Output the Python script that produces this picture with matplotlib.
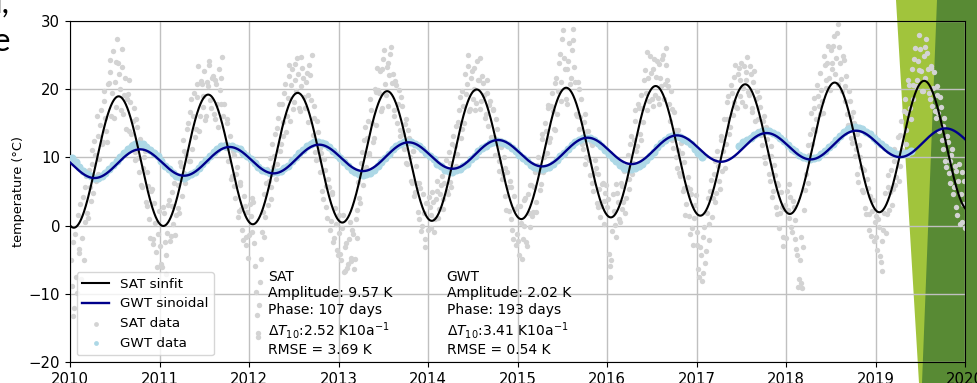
import numpy as np
import matplotlib
matplotlib.use('Agg')
import matplotlib.pyplot as plt
from matplotlib.patches import Polygon

nan = np.nan
years = list(range(2010, 2020))

# SAT data, one value per week (deg C), first reading of the week
sat_2010 = [-5.1, -2.4, -12.1, -7.5, 1.5, -4.0, -7.9, 4.2, 0.6, 7.2, 1.1, 5.6, 11.1, 4.8, 10.4, 16.0, 7.5, 14.8, 11.9, 19.7, 15.8, 12.2, 20.9, 24.3, 19.5, 15.8,
            24.0, 27.4, 22.3, 17.0, 23.2, 19.2, 14.2, 19.3, 21.4, 13.4, 15.4, 9.6, 15.6, 9.9, 12.7, 5.9, 8.5, 11.0, 2.9, 5.8, -1.8, 5.4, -1.9, 0.4, -6.0, 2.1]
sat_2011 = [-3.0, -6.0, 1.9, -4.3, -1.1, 3.8, -1.5, 2.9, 6.3, 1.6, 5.9, 1.8, 8.8, 12.6, 7.7, 10.3, 15.0, 9.4, 18.5, 16.0, 13.0, 20.7, 23.4, 16.0, 20.8, 19.0,
            15.5, 21.1, 23.6, 18.4, 21.6, 16.3, 21.4, 17.9, 22.9, 17.9, 24.7, 17.9, 11.4, 15.0, 11.5, 6.8, 11.0, 5.8, 7.5, 1.2, 6.0, 2.5, -2.1, 2.9, -1.7, -4.8]
sat_2012 = [3.1, -1.0, 3.4, -5.9, -13.1, -16.3, -8.3, -0.9, 4.6, 1.3, 8.3, 6.5, 3.9, 12.0, 10.2, 6.8, 14.3, 17.8, 12.0, 15.2, 19.5, 13.7, 18.7, 23.6, 20.6, 17.1,
            23.7, 19.7, 22.3, 16.8, 24.7, 21.7, 17.3, 22.4, 19.2, 22.1, 25.0, 15.8, 10.8, 15.4, 9.8, 11.4, 5.1, 9.7, 5.8, 1.1, 5.7, 0.7, 4.7, -1.8, 0.2, -4.3]
sat_2013 = [-1.1, -5.0, 1.5, -6.6, -2.6, -5.6, 0.5, -5.2, -1.2, -4.9, 2.3, 6.4, 3.3, 10.8, 8.1, 14.4, 12.8, 10.4, 18.5, 15.1, 12.8, 19.6, 23.1, 19.5, 16.8, 23.0,
            25.8, 19.1, 23.9, 22.1, 26.2, 22.2, 17.0, 20.6, 17.8, 14.0, 18.8, 13.5, 14.9, 9.2, 14.0, 10.0, 6.3, 10.9, 4.9, 6.3, 1.0, 5.5, -0.1, 1.9, -3.1, 3.3]
sat_2014 = [4.2, 1.5, 4.9, -0.9, 3.9, 6.6, 2.5, 6.0, 2.5, 6.3, 9.6, 4.6, 9.2, 5.7, 13.1, 11.6, 8.8, 15.2, 18.9, 14.1, 17.6, 22.2, 20.7, 25.0, 17.1, 22.6,
            20.0, 16.9, 24.2, 21.3, 17.1, 22.0, 19.2, 16.3, 21.3, 17.7, 13.0, 16.9, 13.0, 15.6, 12.0, 8.0, 11.5, 7.5, 8.5, 2.3, 5.6, 6.5, 1.0, -2.0, 2.4, -1.2]
sat_2015 = [-2.2, 2.9, -4.9, -0.1, 4.1, -3.0, 1.9, 6.0, 1.4, 5.7, 2.0, 8.9, 7.9, 6.1, 13.5, 10.0, 13.8, 17.7, 12.2, 17.5, 16.8, 14.0, 21.7, 19.7, 25.2, 18.3,
            28.7, 23.0, 17.9, 24.2, 20.8, 25.8, 27.2, 21.0, 16.0, 20.1, 15.9, 12.0, 15.2, 9.1, 13.8, 9.6, 12.3, 6.2, 7.7, 8.5, 2.8, 5.4, 2.9, 6.3, 3.6, 5.9]
sat_2016 = [3.9, -7.5, -5.1, 4.7, 0.1, 6.1, 3.4, 0.5, 5.8, 3.5, 1.9, 8.9, 6.9, 12.0, 7.6, 12.5, 16.9, 11.6, 17.3, 12.6, 17.2, 21.3, 19.4, 25.5, 18.3, 22.4,
            17.5, 24.5, 21.8, 18.7, 23.7, 20.4, 25.0, 20.8, 26.1, 20.4, 15.3, 17.1, 11.4, 14.0, 8.4, 11.1, 7.2, 10.7, 5.5, 1.6, 5.6, 1.4, 5.3, -0.4, 1.1, 4.5]
sat_2017 = [-2.9, -7.6, -4.3, -7.0, -0.2, -3.7, 4.1, 0.2, 6.7, 4.1, 9.4, 4.8, 8.8, 5.3, 13.1, 10.9, 8.5, 15.7, 19.0, 14.5, 19.5, 18.1, 23.6, 17.2, 23.1, 21.4,
            18.1, 23.4, 21.4, 24.7, 19.1, 22.2, 16.6, 22.7, 18.6, 15.7, 18.9, 13.3, 15.3, 10.0, 14.4, 10.2, 6.6, 10.2, 5.1, 7.4, 1.7, 6.0, 1.9, 2.8, -1.6, 3.0]
sat_2018 = [5.1, 1.1, 4.2, -1.0, 2.8, -1.9, -4.3, -7.9, -1.7, -9.2, 2.3, 7.6, 11.8, 10.4, 16.5, 14.1, 18.7, 15.6, 19.0, 16.3, 19.9, 16.5, 23.5, 21.3, 26.4, 19.9,
            23.8, 26.4, 22.2, 28.2, 29.5, 23.8, 19.8, 24.3, 20.4, 16.3, 19.7, 15.9, 12.1, 15.1, 11.2, 7.6, 11.8, 8.6, 4.9, 8.2, 1.7, 5.5, 1.7, -1.5, 3.7, 0.6]
sat_2019 = [-1.7, 1.0, -4.4, -6.7, -0.6, 4.8, 1.7, 7.4, 4.9, 3.0, 9.4, 6.0, 10.4, 6.5, 13.3, 11.1, 16.8, 11.9, 16.5, 20.6, 15.6, 20.6, 24.5, 20.4, 24.1, 27.9,
            22.7, 19.8, 26.2, 27.4, 23.0, 18.5, 23.4, 20.2, 16.8, 20.4, 16.5, 18.8, 12.5, 14.6, 9.5, 13.2, 7.7, 9.5, 11.2, 5.7, 8.0, 1.5, 9.1, 4.7, 0.5, 6.6]

# SAT data, second reading of each week
sat_2010b = [-8.8, -13.2, -1.3, -9.9, -3.4, 3.1, -1.8, -5.0, 5.6, 1.9, 8.2, 3.6, 9.0, 12.4, 6.6, 13.1, 9.8, 17.0, 12.3, 18.2, 13.9, 20.7, 22.5, 16.1, 25.6, 21.0,
             17.4, 23.8, 20.1, 25.9, 16.3, 21.7, 18.6, 13.9, 18.1, 12.0, 17.2, 10.8, 14.4, 7.9, 11.9, 5.6, 10.0, 3.4, 7.8, 0.9, 5.1, -2.7, 3.3, -3.9, -1.2, -8.4]
sat_2011b = [-5.6, 2.8, -2.4, -7.1, 3.0, -2.2, 4.9, 0.3, -1.4, 7.1, 2.6, 9.3, 4.4, 11.0, 6.3, 14.2, 9.5, 16.6, 11.3, 19.4, 14.1, 18.8, 13.9, 21.2, 17.4, 22.6,
             16.0, 20.5, 24.1, 17.3, 22.0, 15.6, 20.8, 14.4, 19.9, 21.6, 16.1, 12.0, 15.7, 9.4, 13.2, 7.3, 10.4, 4.1, 8.6, 2.2, 6.4, -0.6, 4.3, -2.9, 2.0, -1.4]
sat_2012b = [1.4, 4.0, -2.5, -9.8, -15.7, -11.6, -4.9, 2.0, -1.7, 6.2, 3.0, 9.9, 5.6, 8.6, 13.4, 9.1, 15.8, 11.0, 17.9, 13.2, 20.8, 16.1, 21.9, 15.3, 23.0, 18.1,
             21.3, 24.6, 17.2, 20.4, 23.1, 18.9, 21.0, 15.2, 23.6, 18.4, 13.3, 17.5, 9.6, 13.7, 7.8, 10.6, 3.9, 8.2, 2.7, 6.9, -0.7, 4.9, -2.4, 2.6, -3.6, 1.5]
sat_2013b = [-4.2, -0.3, -6.8, -3.1, -6.2, -2.0, -4.7, -0.6, -6.3, 0.9, -1.8, 4.1, 9.2, 5.9, 12.5, 8.6, 15.4, 10.7, 16.9, 12.2, 20.0, 14.8, 19.9, 22.6, 17.2, 24.4,
             20.8, 23.3, 17.6, 25.1, 20.9, 16.0, 21.2, 15.0, 19.9, 13.2, 17.6, 11.3, 15.6, 9.0, 12.8, 6.6, 10.9, 4.4, 8.7, 2.0, 6.3, -0.8, 4.6, -1.9, 3.3, -0.6]
sat_2014b = [2.7, -0.4, 3.5, 0.9, 5.1, 1.1, 4.6, 7.2, 3.9, 8.1, 5.0, 10.8, 6.4, 11.9, 8.4, 14.6, 10.5, 16.9, 12.8, 19.7, 15.0, 19.3, 23.4, 16.8, 21.7, 18.6,
             23.1, 18.0, 21.4, 24.6, 18.3, 20.9, 15.8, 19.4, 14.6, 18.3, 12.9, 17.1, 10.4, 14.2, 9.5, 12.6, 6.8, 10.1, 4.3, 7.9, 2.1, 5.6, -0.7, 4.4, -2.9, 2.9]
sat_2015b = [-4.3, 0.4, -1.9, 3.8, -2.4, 4.6, -0.2, 5.9, 2.0, 7.8, 3.4, 10.1, 5.2, 12.7, 7.9, 15.0, 10.6, 17.3, 12.9, 19.5, 14.2, 20.9, 16.3, 23.8, 21.0, 27.3,
             24.6, 18.5, 22.9, 26.8, 21.7, 28.9, 23.3, 16.4, 21.1, 14.1, 18.6, 11.2, 16.3, 10.0, 13.9, 7.4, 11.8, 5.1, 9.6, 3.3, 7.5, 1.2, 6.1, 0.3, 4.8, 2.7]
sat_2016b = [-4.1, -5.9, -0.8, 2.2, -1.6, 4.8, 1.0, 6.3, 2.4, 8.0, 4.1, 10.4, 5.3, 13.1, 9.2, 15.3, 10.9, 17.8, 13.4, 19.1, 15.2, 22.8, 17.0, 21.7, 24.9, 18.6,
             23.0, 19.2, 24.2, 17.9, 21.6, 24.4, 18.5, 23.6, 21.3, 17.8, 19.8, 12.5, 16.7, 10.1, 14.0, 7.7, 12.1, 5.0, 9.3, 3.2, 7.1, -1.2, 4.6, -2.8, 3.0, -0.9]
sat_2017b = [-6.4, -3.2, -8.1, -1.6, -5.5, 1.8, -2.1, 5.0, 1.3, 7.6, 3.4, 10.9, 6.6, 12.6, 8.0, 15.6, 11.9, 18.1, 13.4, 20.6, 16.2, 21.8, 17.4, 22.3, 19.0, 23.8,
             20.2, 17.6, 22.5, 19.6, 23.4, 17.3, 21.0, 15.4, 19.8, 13.9, 17.4, 11.8, 16.0, 9.2, 12.7, 7.5, 11.6, 4.2, 8.9, 2.8, 6.3, -0.4, 4.9, -3.0, 2.5, -1.8]
sat_2018b = [2.3, 6.1, -0.2, 3.6, 0.8, -3.5, -9.0, -5.1, -8.4, -3.2, 5.2, 9.8, 6.3, 13.4, 12.0, 17.3, 13.8, 20.6, 17.5, 22.4, 18.3, 24.9, 20.2, 23.8, 21.6, 25.7,
             22.9, 27.8, 24.6, 20.8, 26.2, 21.5, 24.9, 18.2, 22.0, 14.7, 18.3, 12.9, 16.6, 10.2, 13.5, 6.4, 10.1, 5.2, 8.3, 2.6, 6.9, -0.6, 4.4, 2.1, -2.3, 1.4]
sat_2019b = [-3.6, -0.2, -5.4, -2.3, 1.8, -1.1, 5.6, 2.3, 8.1, 5.3, 11.2, 7.1, 13.0, 8.8, 15.4, 10.9, 18.5, 14.0, 21.3, 17.2, 22.9, 18.6, 26.1, 21.4, 22.8, 25.9,
             19.7, 24.8, 21.6, 25.3, 19.4, 23.1, 17.6, 22.5, 15.8, 19.1, 13.9, 17.4, 11.3, 15.8, 8.6, 12.3, 6.2, 10.4, 4.6, 8.8, 2.7, 6.5, 0.2, 7.9, 3.1, -0.4]

# GWT data, two values per month (deg C), nan = no data
gwt_2010 = [9.9, 9.3, 8.6, 8.0, 7.5, 7.2, 7.0, 7.0, 7.3, 7.7, 8.3, 8.9, 9.5, 10.1, 10.7, 11.3, 11.7, 12.0, 12.0, 11.9, 11.5, 11.1, 10.6, 10.2]
gwt_2011 = [9.5, 8.8, 8.3, 7.7, 7.3, 7.1, 7.0, 7.2, 7.5, 7.9, 8.4, 9.0, 9.6, 10.2, 10.8, 11.2, 11.6, 11.7, 11.7, 11.7, 11.4, 11.2, 10.7, 10.2]
gwt_2012 = [9.7, 9.2, 8.6, 8.2, 8.0, 7.7, 7.8, 7.8, 8.0, 8.4, 8.8, 9.4, 10.0, 10.6, 11.1, 11.7, 12.0, 12.3, 12.3, 12.1, 11.9, 11.5, 11.0, 10.4]
gwt_2013 = [9.9, 9.3, 8.7, 8.2, 7.8, 7.5, 7.4, 7.5, 7.7, 8.2, 8.7, 9.3, 9.9, 10.5, 11.2, 11.6, 12.0, 12.2, 12.2, 12.2, 12.0, 11.6, 11.2, 10.7]
gwt_2014 = [10.2, 9.7, 9.1, 8.7, 8.2, 8.0, 7.9, 8.1, 8.3, 8.7, 9.1, 9.7, 10.2, 10.9, 11.4, 11.7, 12.1, 12.2, 12.4, 12.2, 12.1, 11.8, 11.4, 10.9]
gwt_2015 = [10.4, 9.9, 9.4, 8.9, 8.6, 8.4, 8.3, 8.4, 8.6, 9.0, 9.6, 10.2, 10.7, 11.3, 11.8, 12.3, 12.6, 12.8, 12.9, 12.8, 12.5, 12.1, 11.6, 11.1]
gwt_2016 = [10.5, 9.9, 9.4, 8.9, 8.5, 8.3, 8.3, 8.4, 8.7, 9.1, 9.6, 10.2, 10.8, 11.5, 12.1, 12.6, 13.0, 13.1, 13.1, 13.0, 12.7, 12.4, 11.9, 11.3]
gwt_2017 = [10.7, 10.1, nan, nan, nan, nan, nan, nan, nan, nan, nan, 11.7, 12.2, 12.5, 12.9, 13.3, 13.6, 13.8, 13.9, 13.9, 13.6, 13.3, 12.8, 12.4]
gwt_2018 = [11.8, 11.3, 10.9, 10.4, 10.1, 9.9, 9.8, 9.9, 10.1, 10.5, 10.9, 11.5, 12.0, 12.6, 13.2, 13.7, 14.1, 14.3, 14.4, 14.3, 14.1, 13.7, 13.4, 12.9]
gwt_2019 = [12.4, 11.9, 11.5, 11.1, 10.8, 10.5, 10.5, 10.5, 10.7, 11.0, nan, nan, nan, nan, nan, nan, nan, nan, nan, nan, nan, nan, nan, nan]

sat_data = [sat_2010, sat_2011, sat_2012, sat_2013, sat_2014, sat_2015, sat_2016, sat_2017, sat_2018, sat_2019]
sat_data_b = [sat_2010b, sat_2011b, sat_2012b, sat_2013b, sat_2014b, sat_2015b, sat_2016b, sat_2017b, sat_2018b, sat_2019b]
gwt_data = [gwt_2010, gwt_2011, gwt_2012, gwt_2013, gwt_2014, gwt_2015, gwt_2016, gwt_2017, gwt_2018, gwt_2019]

# fit parameters as printed in the chart (offset = level in Jan 2010)
sat_amp, sat_phase, sat_trend, sat_offset, sat_rmse = 9.57, 107, 2.52, 9.25, 3.69
gwt_amp, gwt_phase, gwt_trend, gwt_offset, gwt_rmse = 2.02, 193, 3.41, 8.9, 0.54

sat_t = np.concatenate([y + (np.arange(52) + 0.5) / 52 for y in years] +
                       [y + (np.arange(52) + 1.0) / 52 for y in years])
sat_v = np.concatenate(sat_data + sat_data_b)
gwt_t = np.concatenate([y + (np.arange(24) + 0.5) / 24 for y in years])
gwt_v = np.concatenate(gwt_data)

t = np.linspace(2010, 2020, 3000)
sat_fit = sat_offset + sat_trend / 10 * (t - 2010) + sat_amp * np.sin(2 * np.pi * (t - 2010 - sat_phase / 365))
gwt_fit = gwt_offset + gwt_trend / 10 * (t - 2010) + gwt_amp * np.sin(2 * np.pi * (t - 2010 - gwt_phase / 365))

W, H = 978, 383
fig = plt.figure(figsize=(W / 100, H / 100), dpi=100)
fig.patch.set_facecolor('white')

# slide decoration behind the chart
light = [(896, 0), (978, 0), (978, 383), (919, 383)]
dark = [(937, 0), (978, 0), (978, 383), (922, 383)]
for pts, col in [(light, '#a1c43c'), (dark, '#588a34')]:
    fig.add_artist(Polygon([(x / W, 1 - y / H) for x, y in pts], closed=True,
                           transform=fig.transFigure, facecolor=col, edgecolor='none', zorder=-5))
fig.text(10 / W, 1 - 13 / H, 'd,', ha='right', va='baseline', fontsize=24, family='Lato')
fig.text(10.5 / W, 1 - 51 / H, 'e', ha='right', va='baseline', fontsize=24, family='Lato')

ax = fig.add_axes([70 / W, 1 - 362 / H, 895 / W, 341 / H])
ax.set_facecolor('none')

h3 = ax.scatter(sat_t, sat_v, s=15, color='lightgray', linewidths=0, zorder=2, label='SAT data')
h4 = ax.scatter(gwt_t, gwt_v, s=34, color='lightblue', linewidths=0, zorder=3, label='GWT data')
h1, = ax.plot(t, sat_fit, color='black', lw=1.5, zorder=4, label='SAT sinfit')
h2, = ax.plot(t, gwt_fit, color='darkblue', lw=1.7, zorder=5, label='GWT sinoidal')

ax.set_xlim(2010, 2020)
ax.set_ylim(-20, 30)
ax.set_xticks(range(2010, 2021))
ax.set_xticklabels([str(y) for y in range(2010, 2021)])
ax.set_yticks(range(-20, 31, 10))
ax.tick_params(labelsize=10.7)
ax.grid(True, color='#c0c0c0', lw=1.0)
ax.set_axisbelow(True)
ax.set_ylabel('temperature (°C)', fontsize=9.3, labelpad=3)

leg = ax.legend(handles=[h1, h2, h3, h4], loc='lower left', fontsize=9.7, framealpha=0.8)
for hd in leg.legend_handles[2:]:
    hd.set_sizes([12])

sat_txt = ('SAT\nAmplitude: %.2f K\nPhase: %d days\n$\\Delta T_{10}$:%.2f K10a$^{-1}$\nRMSE = %.2f K'
           % (sat_amp, sat_phase, sat_trend, sat_rmse))
gwt_txt = ('GWT\nAmplitude: %.2f K\nPhase: %d days\n$\\Delta T_{10}$:%.2f K10a$^{-1}$\nRMSE = %.2f K'
           % (gwt_amp, gwt_phase, gwt_trend, gwt_rmse))
ax.text(0.2212, 0.015, sat_txt, transform=ax.transAxes, fontsize=10, va='bottom', ha='left', zorder=6)
ax.text(0.4209, 0.015, gwt_txt, transform=ax.transAxes, fontsize=10, va='bottom', ha='left', zorder=6)

fig.savefig('out.png', dpi=100)
